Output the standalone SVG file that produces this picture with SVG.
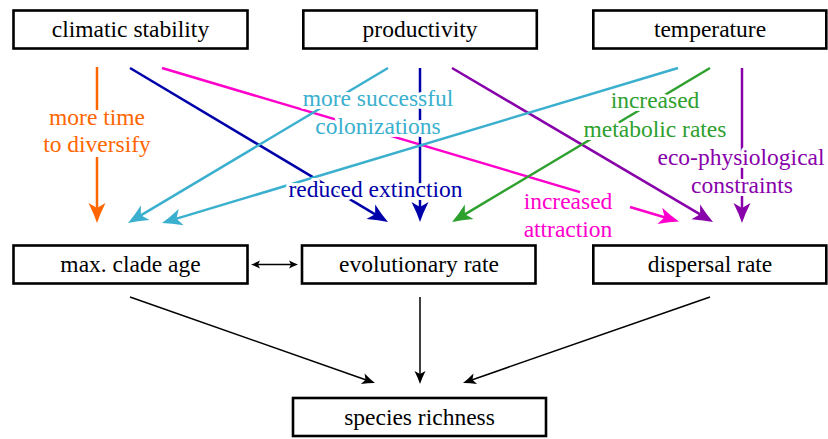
<svg xmlns="http://www.w3.org/2000/svg" width="828" height="439" viewBox="0 0 828 439">
<style>
  .box { fill: #fff; stroke: #000; stroke-width: 2.6; }
  .bt { font-family: "Liberation Serif", "Times New Roman", serif; font-size: 23.5px; text-anchor: middle; fill: #000; stroke: none; }
  .lt { font-family: "Liberation Serif", "Times New Roman", serif; font-size: 23.5px; text-anchor: middle; stroke: #fff; stroke-width: 6; stroke-linejoin: round; paint-order: stroke; }
  .c { fill: none; stroke-width: 2.5; }
  .k { fill: none; stroke: #000; stroke-width: 1.5; }
  .orange { stroke: #FF6600; } .torange { fill: #FF6600; }
  .blue { stroke: #0000AA; } .tblue { fill: #0000AA; }
  .mag { stroke: #FF00CC; } .tmag { fill: #FF00CC; }
  .cyan { stroke: #3AAFCE; } .tcyan { fill: #3AAFCE; }
  .purp { stroke: #8800AA; } .tpurp { fill: #8800AA; }
  .green { stroke: #2EA02E; } .tgreen { fill: #2EA02E; }
</style>
<defs>
  <marker id="aOrange" markerUnits="userSpaceOnUse" viewBox="-22 -10 24 20" refX="-10" refY="0" markerWidth="24" markerHeight="20" orient="auto"><path d="M0,0 Q-9,-3 -20,-8.5 L-15,0 L-20,8.5 Q-9,3 0,0 Z" fill="#FF6600"/></marker>
  <marker id="aBlue" markerUnits="userSpaceOnUse" viewBox="-22 -10 24 20" refX="-10" refY="0" markerWidth="24" markerHeight="20" orient="auto"><path d="M0,0 Q-9,-3 -20,-8.5 L-15,0 L-20,8.5 Q-9,3 0,0 Z" fill="#0000AA"/></marker>
  <marker id="aMag" markerUnits="userSpaceOnUse" viewBox="-22 -10 24 20" refX="-10" refY="0" markerWidth="24" markerHeight="20" orient="auto"><path d="M0,0 Q-9,-3 -20,-8.5 L-15,0 L-20,8.5 Q-9,3 0,0 Z" fill="#FF00CC"/></marker>
  <marker id="aCyan" markerUnits="userSpaceOnUse" viewBox="-22 -10 24 20" refX="-10" refY="0" markerWidth="24" markerHeight="20" orient="auto"><path d="M0,0 Q-9,-3 -20,-8.5 L-15,0 L-20,8.5 Q-9,3 0,0 Z" fill="#3AAFCE"/></marker>
  <marker id="aPurp" markerUnits="userSpaceOnUse" viewBox="-22 -10 24 20" refX="-10" refY="0" markerWidth="24" markerHeight="20" orient="auto"><path d="M0,0 Q-9,-3 -20,-8.5 L-15,0 L-20,8.5 Q-9,3 0,0 Z" fill="#8800AA"/></marker>
  <marker id="aGreen" markerUnits="userSpaceOnUse" viewBox="-22 -10 24 20" refX="-10" refY="0" markerWidth="24" markerHeight="20" orient="auto"><path d="M0,0 Q-9,-3 -20,-8.5 L-15,0 L-20,8.5 Q-9,3 0,0 Z" fill="#2EA02E"/></marker>
  <marker id="aBlack" markerUnits="userSpaceOnUse" viewBox="-15 -7 16 14" refX="-7" refY="0" markerWidth="16" markerHeight="14" orient="auto"><path d="M0,0 Q-6,-2 -13,-5.5 L-10,0 L-13,5.5 Q-6,2 0,0 Z" fill="#000"/></marker>
  <marker id="aSmall" markerUnits="userSpaceOnUse" viewBox="-11 -5 12 10" refX="-4" refY="0" markerWidth="12" markerHeight="10" orient="auto-start-reverse"><path d="M0,0 Q-4,-1.5 -9,-4 L-7,0 L-9,4 Q-4,1.5 0,0 Z" fill="#000"/></marker>
</defs>
<rect x="0" y="0" width="828" height="439" fill="#fff"/>

<g id="connectors">
  <line class="c orange" x1="97" y1="67" x2="97" y2="110"/>
  <line class="c orange" x1="97" y1="157" x2="97" y2="213" marker-end="url(#aOrange)"/>
  <line class="c blue" x1="130" y1="68" x2="379.4" y2="216.9" marker-end="url(#aBlue)"/>
  <line class="c mag" x1="162" y1="68" x2="580" y2="192.1"/>
  <line class="c mag" x1="630" y1="207" x2="669.4" y2="218.7" marker-end="url(#aMag)"/>
  <line class="c cyan" x1="388" y1="68" x2="136.6" y2="217.9" marker-end="url(#aCyan)"/>
  <line class="c blue" x1="420" y1="68" x2="420" y2="212" marker-end="url(#aBlue)"/>
  <line class="c purp" x1="452" y1="68" x2="704.4" y2="216.9" marker-end="url(#aPurp)"/>
  <line class="c cyan" x1="678" y1="68" x2="171.6" y2="220.1" marker-end="url(#aCyan)"/>
  <line class="c green" x1="710" y1="68" x2="460.6" y2="216.9" marker-end="url(#aGreen)"/>
  <line class="c purp" x1="742" y1="68" x2="742" y2="213" marker-end="url(#aPurp)"/>

  <line class="k" x1="255" y1="264.5" x2="294" y2="264.5" marker-start="url(#aSmall)" marker-end="url(#aSmall)"/>
  <line class="k" x1="130" y1="297" x2="368.4" y2="380.7" marker-end="url(#aBlack)"/>
  <line class="k" x1="420" y1="297" x2="420" y2="377" marker-end="url(#aBlack)"/>
  <line class="k" x1="710" y1="297" x2="469.6" y2="380.7" marker-end="url(#aBlack)"/>

  <text class="lt torange" x="97" y="125">more time</text>
  <text class="lt torange" x="97" y="152">to diversify</text>
  <text class="lt tcyan" x="378" y="105.5">more successful</text>
  <text class="lt tcyan" x="378" y="134">colonizations</text>
  <text class="lt tblue" x="375.5" y="196.5">reduced extinction</text>
  <text class="lt tgreen" x="655" y="108">increased</text>
  <text class="lt tgreen" x="655" y="136.5">metabolic rates</text>
  <text class="lt tpurp" x="741" y="165">eco-physiological</text>
  <text class="lt tpurp" x="742" y="193">constraints</text>
  <text class="lt tmag" x="568" y="209">increased</text>
  <text class="lt tmag" x="568" y="237">attraction</text>
</g>

<g id="n-climatic">
  <rect class="box" x="13.5" y="10.5" width="234" height="38"/>
  <text class="bt" x="130.5" y="37">climatic stability</text>
</g>
<g id="n-productivity">
  <rect class="box" x="303.3" y="10.5" width="233.5" height="38"/>
  <text class="bt" x="420" y="37">productivity</text>
</g>
<g id="n-temperature">
  <rect class="box" x="593.3" y="10.5" width="233" height="38"/>
  <text class="bt" x="710" y="37">temperature</text>
</g>
<g id="n-clade">
  <rect class="box" x="13.5" y="245.5" width="234" height="38"/>
  <text class="bt" x="130.5" y="272">max. clade age</text>
</g>
<g id="n-evolutionary">
  <rect class="box" x="302" y="245.5" width="233.5" height="38"/>
  <text class="bt" x="419" y="272">evolutionary rate</text>
</g>
<g id="n-dispersal">
  <rect class="box" x="593.3" y="245.5" width="233" height="38"/>
  <text class="bt" x="710" y="272">dispersal rate</text>
</g>
<g id="n-richness">
  <rect class="box" x="293" y="398" width="253" height="38"/>
  <text class="bt" x="419.5" y="425">species richness</text>
</g>
</svg>
